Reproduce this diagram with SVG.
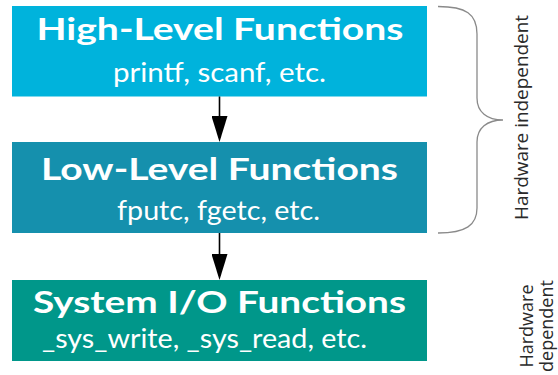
<svg xmlns="http://www.w3.org/2000/svg" width="558" height="375" viewBox="0 0 558 375">
<style>
.title{font-family:Lato,"Open Sans","Liberation Sans",sans-serif;font-weight:bold;font-size:31px;fill:#fff;text-anchor:middle}
.sub{font-family:Lato,"Open Sans","Liberation Sans",sans-serif;font-size:27px;fill:#fff;text-anchor:middle}
.side{font-family:"Open Sans","Liberation Sans",sans-serif;font-size:18px;fill:#2a2a2a;text-anchor:middle}
.conn{stroke:#000;stroke-width:1.6;fill:none}
.brace{stroke:#8a8a8a;stroke-width:1.3;fill:none}
</style>
<defs>
<marker id="arrow" markerUnits="userSpaceOnUse" markerWidth="26" markerHeight="16" viewBox="0 0 26 16" refX="22" refY="8" orient="auto">
<path d="M0,0 L26,8 L0,16 z" fill="#000"/>
</marker>
</defs>
<rect width="558" height="375" fill="#fff"/>
<g id="high-level">
<rect x="12" y="6" width="415" height="90.5" fill="#00b3dc"/>
<text class="title" x="220" y="40" textLength="367" lengthAdjust="spacingAndGlyphs">High-Level Functions</text>
<text class="sub" x="219.5" y="82" textLength="213" lengthAdjust="spacingAndGlyphs">printf, scanf, etc.</text>
</g>
<g id="low-level">
<rect x="12" y="142" width="415" height="91" fill="#1590ad"/>
<text class="title" x="219.5" y="180" textLength="357" lengthAdjust="spacingAndGlyphs">Low-Level Functions</text>
<text class="sub" x="218.5" y="220" textLength="203" lengthAdjust="spacingAndGlyphs">fputc, fgetc, etc.</text>
</g>
<g id="system-io">
<rect x="12" y="280" width="415" height="81" fill="#00978a"/>
<text class="title" x="219.5" y="313" textLength="373" lengthAdjust="spacingAndGlyphs">System I/O Functions</text>
<text class="sub" x="204.5" y="348" textLength="325" lengthAdjust="spacingAndGlyphs">_sys_write, _sys_read, etc.</text>
</g>
<g id="connectors">
<line class="conn" x1="219.5" y1="96.5" x2="219.5" y2="138" marker-end="url(#arrow)"/>
<line class="conn" x1="219.5" y1="233" x2="219.5" y2="276" marker-end="url(#arrow)"/>
</g>
<g id="hw-independent">
<path class="brace" d="M438,6.5 C466,6.5 477,14 477,34 L477,98 C477,112 487,120 503,120 C487,120 477,128 477,142 L477,208 C477,225 466,233 438,233"/>
<text class="side" transform="translate(528,117.5) rotate(-90)" textLength="205" lengthAdjust="spacingAndGlyphs">Hardware independent</text>
</g>
<g id="hw-dependent">
<text class="side" transform="translate(533,326) rotate(-90)">Hardware</text>
<text class="side" transform="translate(553,326) rotate(-90)">dependent</text>
</g>
</svg>
